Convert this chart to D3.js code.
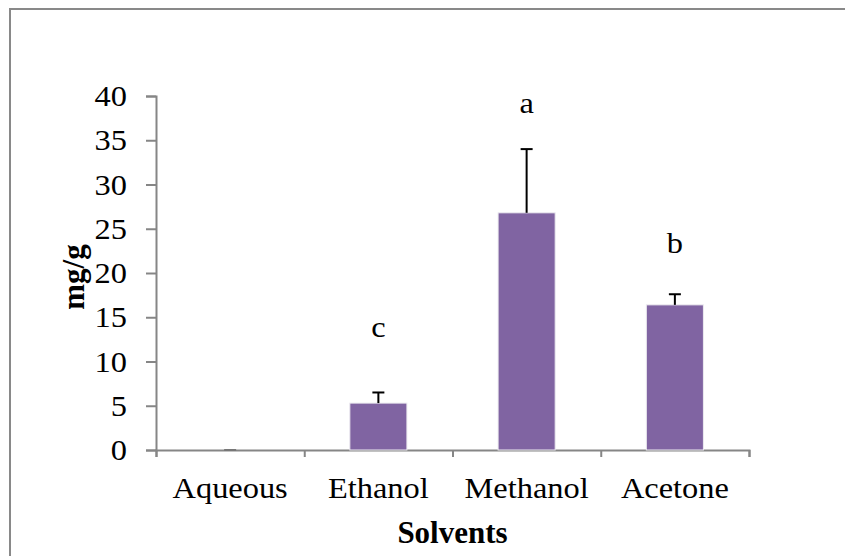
<!DOCTYPE html>
<html>
<head>
<meta charset="utf-8">
<script src="https://cdn.jsdelivr.net/npm/d3@7"></script>
<style>
  body { margin: 0; background: #fff; }
  svg text { font-family: "Times New Roman", "Liberation Serif", Tinos, serif; fill: #000; }
</style>
</head>
<body>
<div id="chart"></div>
<script>
// values
const solvents = ["Aqueous", "Ethanol", "Methanol", "Acetone"];
const means = [0, 5.3, 26.8, 16.4];
const errors = [0, 1.2, 7.2, 1.2];
const letters = ["", "c", "a", "b"];
const letterAt = [0, 12.8, 38.1, 22.3];
const yTicks = [0, 5, 10, 15, 20, 25, 30, 35, 40];

const width = 845, height = 556;
const margin = { left: 156, right: 96, top: 96, bottom: 106 };
const fontSize = 30;
const stretch = 'scale(1.08,1)'; // the original text is a bit wider than Times

const svg = d3.select('#chart').append('svg')
  .attr('width', width)
  .attr('height', height);

// frame round the chart
svg.append('rect')
  .attr('x', 10).attr('y', 9)
  .attr('width', width + 10).attr('height', height + 10)
  .attr('fill', 'none')
  .attr('stroke', '#898989')
  .attr('stroke-width', 2);

const x = d3.scaleBand()
  .domain(solvents)
  .range([margin.left, width - margin.right])
  .paddingInner(0)
  .paddingOuter(0);

const y = d3.scaleLinear()
  .domain([0, 40])
  .range([height - margin.bottom, margin.top]);

// y axis
const yAxis = svg.append('g')
  .attr('transform', 'translate(' + margin.left + ',0)')
  .call(d3.axisLeft(y).tickValues(yTicks).tickSize(10).tickPadding(17));
yAxis.attr('font-family', null).attr('font-size', null);
yAxis.selectAll('text').style('font-size', fontSize + 'px').attr('transform', stretch);

// x axis boundaries, ticks between the categories
const xEdge = d3.scaleLinear()
  .domain([0, solvents.length])
  .range(x.range());
const xAxis = svg.append('g')
  .attr('transform', 'translate(0,' + y(0) + ')')
  .call(d3.axisBottom(xEdge).ticks(solvents.length).tickSize(7).tickFormat(''));

const xLabels = svg.append('g')
  .attr('transform', 'translate(0,' + y(0) + ')')
  .call(d3.axisBottom(x).tickSize(0).tickPadding(27));
xLabels.attr('font-family', null).attr('font-size', null);
xLabels.select('.domain').remove();
xLabels.selectAll('text').style('font-size', fontSize + 'px').attr('transform', stretch);

[yAxis, xAxis].forEach(g => {
  g.selectAll('.domain, line').attr('stroke', '#868686').attr('stroke-width', 2);
});

// bars
const barW = x.bandwidth() * 0.385;
svg.append('g').selectAll('rect')
  .data(solvents)
  .enter().append('rect')
  .attr('x', (d, i) => x(d) + x.bandwidth() / 2 - barW / 2)
  .attr('y', (d, i) => y(means[i]))
  .attr('width', barW)
  .attr('height', (d, i) => y(0) - y(means[i]))
  .attr('fill', '#8064A2')
  .attr('stroke', '#ecebf0')
  .attr('stroke-width', 1);

// error bars, upper side only
const errs = svg.append('g');
solvents.forEach((d, i) => {
  const cx = x(d) + x.bandwidth() / 2;
  errs.append('line')
    .attr('x1', cx).attr('x2', cx)
    .attr('y1', y(means[i])).attr('y2', y(means[i] + errors[i]))
    .attr('stroke', '#000').attr('stroke-width', 2);
  errs.append('line')
    .attr('x1', cx - 6).attr('x2', cx + 6)
    .attr('y1', y(means[i] + errors[i])).attr('y2', y(means[i] + errors[i]))
    .attr('stroke', i == 0 ? '#777' : '#000').attr('stroke-width', 2);
});

// significance letters
svg.append('g').selectAll('text')
  .data(letters)
  .enter().append('text')
  .attr('transform', (d, i) => 'translate(' + (x(solvents[i]) + x.bandwidth() / 2) + ',' + y(letterAt[i]) + ') ' + stretch)
  .attr('text-anchor', 'middle')
  .style('font-size', fontSize + 'px')
  .text(d => d);

// axis titles
svg.append('text')
  .attr('x', x.range()[0] + (x.range()[1] - x.range()[0]) / 2)
  .attr('y', 543)
  .attr('text-anchor', 'middle')
  .style('font-size', '31px')
  .style('font-weight', 'bold')
  .text('Solvents');

svg.append('text')
  .attr('transform', 'translate(84,' + (y(20) + 4) + ') rotate(-90)')
  .attr('text-anchor', 'middle')
  .style('font-size', '31px')
  .style('font-weight', 'bold')
  .text('mg/g');
</script>
</body>
</html>
